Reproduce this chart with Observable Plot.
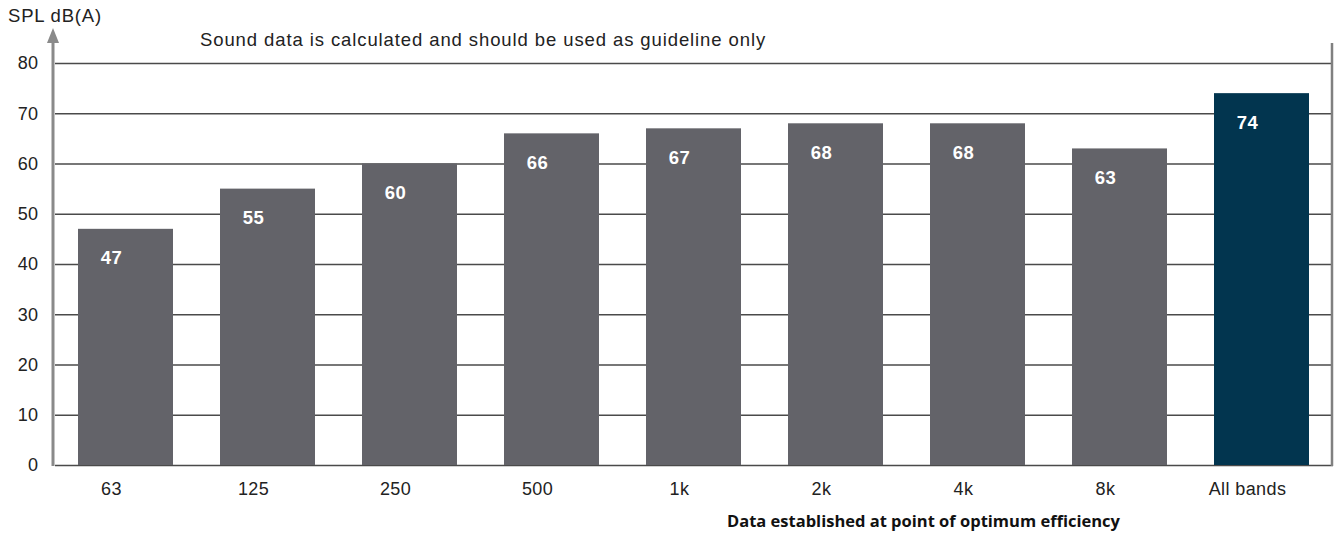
<!DOCTYPE html>
<html>
<head>
<meta charset="utf-8">
<script src="https://cdn.jsdelivr.net/npm/d3@7"></script>
<script src="https://cdn.jsdelivr.net/npm/@observablehq/plot@0.6"></script>
<style>
  html, body { margin: 0; padding: 0; background: #fff; }
  #chart { width: 1340px; height: 535px; }
</style>
</head>
<body>
<div id="chart"></div>
<script>
const categories = ["63", "125", "250", "500", "1k", "2k", "4k", "8k", "All bands"];
const values = [47, 55, 60, 66, 67, 68, 68, 63, 74];
const yTicks = [0, 10, 20, 30, 40, 50, 60, 70, 80];
const highlight = "All bands";
const yLabel = "SPL dB(A)";
const subtitle = "Sound data is calculated and should be used as guideline only";
const caption = "Data established at point of optimum efficiency";

const data = categories.map((c, i) => ({cat: c, val: values[i]}));

const chart = Plot.plot({
  width: 1340,
  height: 535,
  marginTop: 63,
  marginBottom: 70,
  marginLeft: 55,
  marginRight: 7,
  style: {fontFamily: "'Liberation Sans', Arial, sans-serif", fontSize: "18px", color: "#222", background: "#fff", letterSpacing: "0.4px"},
  x: {domain: categories, paddingInner: 0.33, paddingOuter: 0.165, axis: null},
  y: {domain: [0, 80], axis: null},
  marks: [
    Plot.ruleY(yTicks, {stroke: "#4a4a4a", strokeWidth: 1.5}),
    Plot.barY(data, {x: "cat", y: "val", fill: d => d.cat === highlight ? "#02354f" : "#636369"}),
    Plot.text(data, {x: "cat", y: "val", text: d => String(d.val), dx: -14.5, dy: 29, fill: "#fff", fontWeight: "bold", fontSize: 18.5}),
    Plot.axisY({ticks: yTicks, tickSize: 0, tickPadding: 17, label: null, fontSize: 18}),
    Plot.axisX({tickSize: 0, tickPadding: 17, dx: -14.5, label: null, fontSize: 18})
  ]
});

document.getElementById("chart").appendChild(chart);

// Decorations computed from the chart's scales
const xs = chart.scale("x");
const ys = chart.scale("y");
const left = xs.range[0] - 2;
const right = xs.range[1] - 1;
const y0 = ys.apply(0);
const y80 = ys.apply(80);
const svg = d3.select(chart);

svg.append("line")
  .attr("x1", left).attr("x2", left)
  .attr("y1", y0 + 1).attr("y2", y80 - 24)
  .attr("stroke", "#8a8a8a").attr("stroke-width", 3);
svg.append("path")
  .attr("d", `M${left},${y80 - 35} L${left - 6},${y80 - 20} L${left + 6},${y80 - 20} Z`)
  .attr("fill", "#8a8a8a");
svg.append("line")
  .attr("x1", right).attr("x2", right)
  .attr("y1", y0 + 1).attr("y2", y80 - 20)
  .attr("stroke", "#808080").attr("stroke-width", 2.5);

svg.append("text")
  .attr("x", 8).attr("y", y80 - 41)
  .attr("text-anchor", "start")
  .attr("font-size", 18.5).attr("letter-spacing", "0.8px").attr("fill", "#222")
  .text(yLabel);
svg.append("text")
  .attr("x", 200).attr("y", y80 - 17)
  .attr("text-anchor", "start")
  .attr("font-size", 18.5).attr("letter-spacing", "0.9px").attr("fill", "#222")
  .text(subtitle);
svg.append("text")
  .attr("x", 727).attr("y", y0 + 62)
  .attr("text-anchor", "start")
  .attr("font-family", "'Open Sans', sans-serif")
  .attr("font-weight", "bold")
  .attr("letter-spacing", "0px")
  .attr("font-size", 16.5).attr("fill", "#111")
  .text(caption);
</script>
</body>
</html>
